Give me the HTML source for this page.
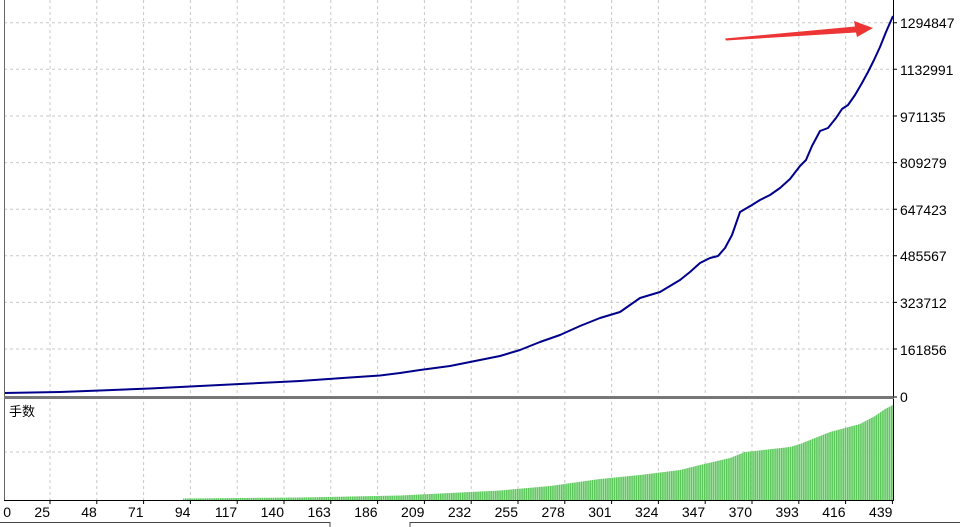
<!DOCTYPE html>
<html><head><meta charset="utf-8"><style>
body{margin:0;background:#fff;}
svg{display:block;font-family:"Liberation Sans","Noto Sans CJK SC",sans-serif;}
</style></head><body>
<svg width="960" height="527" viewBox="0 0 960 527" xmlns="http://www.w3.org/2000/svg">
<defs>
<pattern id="bars" width="2.2" height="10" patternUnits="userSpaceOnUse">
<rect x="0" y="0" width="1.6" height="10" fill="#5cc85c"/>
<rect x="1.6" y="0" width="0.6" height="10" fill="#b8e8b8"/>
</pattern>
</defs>
<rect width="960" height="527" fill="#fff"/>
<g stroke="#c8c8c8" stroke-dasharray="3,3" stroke-width="1">
<line x1="4" x2="893" y1="22.7" y2="22.7"/>
<line x1="4" x2="893" y1="69.3" y2="69.3"/>
<line x1="4" x2="893" y1="116" y2="116"/>
<line x1="4" x2="893" y1="162.6" y2="162.6"/>
<line x1="4" x2="893" y1="209.2" y2="209.2"/>
<line x1="4" x2="893" y1="255.8" y2="255.8"/>
<line x1="4" x2="893" y1="302.4" y2="302.4"/>
<line x1="4" x2="893" y1="349" y2="349"/>
<line x1="4" x2="893" y1="452" y2="452"/>
</g>
<g stroke="#c8c8c8" stroke-dasharray="3,3" stroke-width="1">
<path d="M50 0V500M96.8 0V500M143.6 0V500M190.4 0V500M237.2 0V500M284 0V500M330.8 0V500M377.6 0V500M424.4 0V500M471.2 0V500M518 0V500M564.8 0V500M611.6 0V500M658.4 0V500M705.2 0V500M752 0V500M798.8 0V500M845.6 0V500"/>
</g>
<polygon fill="url(#bars)" points="183,500 183,498.5 300,497.5 400,495.5 450,493 500,490.5 550,486 600,479 640,475 680,470 700,465 730,458 745,452 790,447 800,444 830,432 860,424 875,416 885,409 893,405 893,500"/>
<polyline fill="none" stroke="#00008b" stroke-width="2" stroke-linejoin="round" points="4,393 60,392 100,390.5 150,388.5 200,386 250,383.5 300,381 350,377.5 380,375.5 400,373 420,370 450,366 470,362 500,356 520,350 540,342 560,335 580,326 600,318 620,312 630,305 640,298 660,292 680,280 690,272 700,263 710,258 718,256 725,248 732,235 740,212 752,205 760,200 770,195 780,188 790,179 800,166 806,160 812,146 820,131 828,128 836,118 842,109 848,105 855,95 862,83 868,72 874,60 880,47 886,32 893,16"/>
<line x1="893.5" y1="0" x2="893.5" y2="500" stroke="#000" stroke-width="1"/>
<line x1="4.5" y1="0" x2="4.5" y2="500" stroke="#666" stroke-width="1"/>
<rect x="4" y="396" width="890" height="3" fill="#777"/>
<line x1="4" y1="500.5" x2="894" y2="500.5" stroke="#000"/>
<g stroke="#000"><path d="M893 22.7h4M893 69.3h4M893 116h4M893 162.6h4M893 209.2h4M893 255.8h4M893 302.4h4M893 349h4M893 397h4"/>
<path d="M50 500v4M96.8 500v4M143.6 500v4M190.4 500v4M237.2 500v4M284 500v4M330.8 500v4M377.6 500v4M424.4 500v4M471.2 500v4M518 500v4M564.8 500v4M611.6 500v4M658.4 500v4M705.2 500v4M752 500v4M798.8 500v4M845.6 500v4M892.4 500v4"/></g>
<g font-size="14" fill="#000">
<text x="900" y="28">1294847</text>
<text x="900" y="75">1132991</text>
<text x="900" y="122">971135</text>
<text x="900" y="168">809279</text>
<text x="900" y="215">647423</text>
<text x="900" y="261">485567</text>
<text x="900" y="308">323712</text>
<text x="900" y="355">161856</text>
<text x="900" y="402">0</text>
</g>
<text x="9" y="416" font-size="13">手数</text>
<g font-size="14" text-anchor="end">
<text x="11" y="517">0</text>
<text x="50" y="517">25</text>
<text x="96.8" y="517">48</text>
<text x="143.6" y="517">71</text>
<text x="190.4" y="517">94</text>
<text x="237.2" y="517">117</text>
<text x="284" y="517">140</text>
<text x="330.8" y="517">163</text>
<text x="377.6" y="517">186</text>
<text x="424.4" y="517">209</text>
<text x="471.2" y="517">232</text>
<text x="518" y="517">255</text>
<text x="564.8" y="517">278</text>
<text x="611.6" y="517">301</text>
<text x="658.4" y="517">324</text>
<text x="705.2" y="517">347</text>
<text x="752" y="517">370</text>
<text x="798.8" y="517">393</text>
<text x="845.6" y="517">416</text>
<text x="892.4" y="517">439</text>
</g>
<path d="M0 522.5H330M410 522.5H960" stroke="#444"/>
<path d="M330 522v5M410 522v5" stroke="#444"/>
<polygon fill="#ee3535" points="725,38.5 855,26.5 854,21 873,28 857,37 856,32.5 726,40.5"/>
</svg>
</body></html>
